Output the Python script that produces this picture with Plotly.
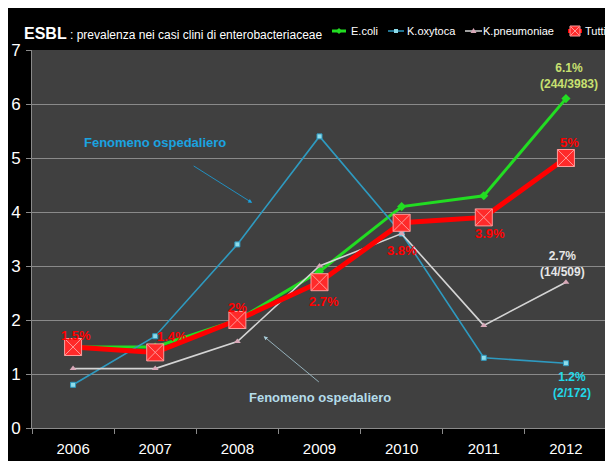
import plotly.graph_objects as go

years = ["2006", "2007", "2008", "2009", "2010", "2011", "2012"]
ecoli = [1.5, 1.5, 2.0, 2.9, 4.1, 4.3, 6.1]
koxytoca = [0.8, 1.7, 3.4, 5.4, 3.6, 1.3, 1.2]
kpneumoniae = [1.1, 1.1, 1.6, 3.0, 3.6, 1.9, 2.7]
tutti = [1.5, 1.4, 2.0, 2.7, 3.8, 3.9, 5.0]
tutti_labels = ["1.5%", "1.4%", "2%", "2.7%", "3.8%", "3.9%", "5%"]

FONT = "Liberation Sans, Arial"

C_ECOLI, C_OXY, C_PNEU, C_TUT = "#22dd22", "#2e9ac0", "#d4d4d4", "#ff0000"

fig = go.Figure()
fig.add_trace(go.Scatter(x=years, y=ecoli, name="E.coli", mode="lines+markers",
                         line=dict(color=C_ECOLI, width=3),
                         marker=dict(symbol="diamond", size=7, color=C_ECOLI)))
fig.add_trace(go.Scatter(x=years, y=koxytoca, name="K.oxytoca", mode="lines+markers",
                         line=dict(color=C_OXY, width=1.6),
                         marker=dict(symbol="square", size=5, color="#8fdcea",
                                     line=dict(color=C_OXY, width=1))))
fig.add_trace(go.Scatter(x=years, y=kpneumoniae, name="K.pneumoniae", mode="lines+markers",
                         line=dict(color=C_PNEU, width=1.6),
                         marker=dict(symbol="triangle-up", size=6, color="#d8a8b8")))
fig.add_trace(go.Scatter(x=years, y=tutti, name="Tutti", mode="lines+markers",
                         line=dict(color=C_TUT, width=5),
                         marker=dict(symbol="square-x", size=17, color="#ff2a2a",
                                     line=dict(color="#ff9a9a", width=1))))

W, H = 613, 461
# the page adds an 8px body margin; plot area in screenshot: x 32..607, y 50..428
L, T = 24, 42
pw, ph = 575, 378
R, B = W - L - pw, H - T - ph


def px(sx):
    return (sx - 32) / pw


def py(sy):
    return (428 - sy) / ph


ann = []
tut_pos = [(0.04, 1.72), (1.2, 1.69), (2.0, 2.24), (3.05, 2.35), (4.01, 3.28), (5.07, 3.61), (6.04, 5.28)]
for (x0, y0), t in zip(tut_pos, tutti_labels):
    ann.append(dict(x=x0, y=y0, xref="x", yref="y", text="<b>%s</b>" % t, showarrow=False,
                    font=dict(color="#ff0000", size=13, family=FONT)))
ann.append(dict(x=6.04, y=6.52, text="<b>6.1%<br>(244/3983)</b>", showarrow=False,
                font=dict(color="#c8e070", size=12, family=FONT)))
ann.append(dict(x=5.96, y=3.03, text="<b>2.7%<br>(14/509)</b>", showarrow=False,
                font=dict(color="#e6e6e6", size=12, family=FONT)))
ann.append(dict(x=6.07, y=0.79, text="<b>1.2%<br>(2/172)</b>", showarrow=False,
                font=dict(color="#22d8e8", size=12, family=FONT)))
ann.append(dict(x=1.0, y=5.28, text="<b>Fenomeno ospedaliero</b>", showarrow=False,
                font=dict(color="#1aa3e0", size=13, family=FONT)))
ann.append(dict(x=2.18, y=4.17, ax=1.45, ay=4.87, axref="x", ayref="y", text="",
                showarrow=True, arrowhead=2, arrowsize=1, arrowwidth=0.8, arrowcolor="#1aa3e0"))
ann.append(dict(x=3.01, y=0.57, text="<b>Fenomeno ospedaliero</b>", showarrow=False,
                font=dict(color="#b4dcea", size=13, family=FONT)))
ann.append(dict(x=2.32, y=1.70, ax=3.01, ay=0.83, axref="x", ayref="y", text="",
                showarrow=True, arrowhead=2, arrowsize=1, arrowwidth=0.8, arrowcolor="#a8ccd8"))
# title
ann.append(dict(x=px(22), y=py(33), xref="paper", yref="paper", xanchor="left", yanchor="middle",
                text="<b>ESBL</b><span style='font-size:12px'> : prevalenza nei casi clini di enterobacteriaceae</span>",
                showarrow=False, font=dict(color="white", size=16, family=FONT)))

# custom compact legend
legend_items = [
    ("E.coli", C_ECOLI, 332, 346, 3, 349),
    ("K.oxytoca", C_OXY, 388, 404, 1.5, 405),
    ("K.pneumoniae", C_PNEU, 465, 482, 1.5, 481),
    ("Tutti", C_TUT, 568, 582, 4, 583),
]
LY = 31
shapes = []
for name, col, x0, x1, w, tx in legend_items:
    shapes.append(dict(type="line", xref="paper", yref="paper", x0=px(x0), x1=px(x1), y0=py(LY), y1=py(LY),
                       line=dict(color=col, width=w)))
    ann.append(dict(x=px(tx), y=py(LY), xref="paper", yref="paper", xanchor="left", yanchor="middle",
                    text=name, showarrow=False, font=dict(color="white", size=11, family=FONT)))
cx = (332 + 346) / 2
shapes.append(dict(type="path", xref="paper", yref="paper",
                   path="M %f %f L %f %f L %f %f L %f %f Z" % (px(cx - 3), py(LY), px(cx), py(LY - 3),
                                                              px(cx + 3), py(LY), px(cx), py(LY + 3)),
                   fillcolor=C_ECOLI, line=dict(width=0)))
cx = (388 + 404) / 2
shapes.append(dict(type="rect", xref="paper", yref="paper", x0=px(cx - 2), x1=px(cx + 2), y0=py(LY + 2), y1=py(LY - 2),
                   fillcolor="#8fdcea", line=dict(width=0)))
cx = (465 + 482) / 2
shapes.append(dict(type="path", xref="paper", yref="paper",
                   path="M %f %f L %f %f L %f %f Z" % (px(cx - 3), py(LY + 2), px(cx + 3), py(LY + 2), px(cx), py(LY - 3)),
                   fillcolor="#d8a8b8", line=dict(width=0)))
cx = (568 + 582) / 2
shapes.append(dict(type="rect", xref="paper", yref="paper", x0=px(cx - 5), x1=px(cx + 5), y0=py(LY + 5), y1=py(LY - 5),
                   fillcolor="#ff2a2a", line=dict(color="#ff9a9a", width=1)))
shapes.append(dict(type="path", xref="paper", yref="paper",
                   path="M %f %f L %f %f M %f %f L %f %f" % (px(cx - 4), py(LY + 4), px(cx + 4), py(LY - 4),
                                                            px(cx - 4), py(LY - 4), px(cx + 4), py(LY + 4)),
                   line=dict(color="#ff9a9a", width=1)))

fig.update_layout(
    width=W, height=H, margin=dict(l=L, r=R, t=T, b=B, autoexpand=False),
    paper_bgcolor="black", plot_bgcolor="#404040",
    annotations=ann, shapes=shapes,
    showlegend=False,
    font=dict(family=FONT, color="white"),
)
fig.update_xaxes(type="category", range=[-0.5, 6.5], showgrid=False, showline=True, linecolor="#8a8a8a",
                 ticks="outside", tickson="boundaries", ticklen=5, tickcolor="#8a8a8a",
                 ticklabelstandoff=7, automargin=False,
                 tickfont=dict(color="white", size=15, family=FONT))
fig.update_yaxes(range=[0, 7], dtick=1, showgrid=True, gridcolor="#8a8a8a", gridwidth=1,
                 showline=True, linecolor="#8a8a8a", ticks="outside", ticklen=5, tickcolor="#8a8a8a",
                 zeroline=False, ticklabelstandoff=2, automargin=False,
                 tickfont=dict(color="white", size=17, family=FONT))

fig.write_html("out.html")
